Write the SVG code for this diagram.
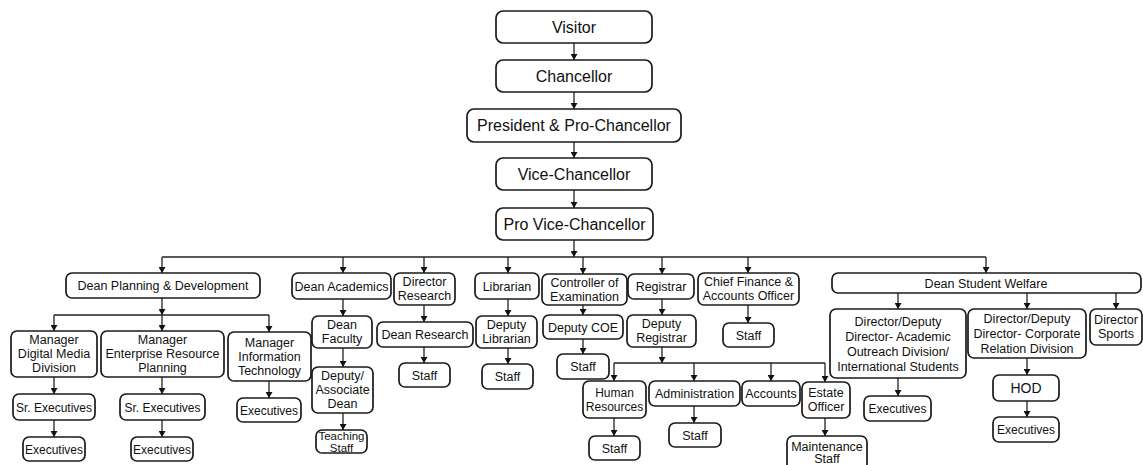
<svg xmlns="http://www.w3.org/2000/svg" width="1143" height="465" viewBox="0 0 1143 465">
<defs>
<marker id="ah" viewBox="0 0 10 10" refX="10" refY="5" markerWidth="6" markerHeight="7" markerUnits="userSpaceOnUse" orient="auto" preserveAspectRatio="none">
<path d="M0,0 L10,5 L0,10 z" fill="#111"/>
</marker>
<style>
rect{fill:#fff;stroke:#1a1a1a;stroke-width:1.7}
text{font-family:"Liberation Sans",Arial,sans-serif;font-size:12.5px;fill:#111;text-anchor:middle}
.t text{font-size:16px}
text.s{font-size:12px}
text.xs{font-size:11.5px}
#conn line{stroke:#222;stroke-width:1.3}
#conn line.a{marker-end:url(#ah)}
</style>
</defs>
<rect x="0" y="0" width="1143" height="465" style="fill:#fff;stroke:none"/>
<g id="conn">
<line class="a" x1="574" y1="43" x2="574" y2="60"/>
<line class="a" x1="574" y1="92" x2="574" y2="109"/>
<line class="a" x1="574" y1="142" x2="574" y2="158"/>
<line class="a" x1="574" y1="190" x2="574" y2="208"/>
<line class="a" x1="574" y1="240" x2="574" y2="257"/>
<line x1="162" y1="257" x2="986" y2="257"/>
<line class="a" x1="162" y1="257" x2="162" y2="273"/>
<line class="a" x1="343" y1="257" x2="343" y2="273"/>
<line class="a" x1="424" y1="257" x2="424" y2="273"/>
<line class="a" x1="508" y1="257" x2="508" y2="273"/>
<line class="a" x1="583" y1="257" x2="583" y2="274"/>
<line class="a" x1="662" y1="257" x2="662" y2="274"/>
<line class="a" x1="748" y1="257" x2="748" y2="273"/>
<line class="a" x1="986" y1="257" x2="986" y2="273"/>
<line class="a" x1="162" y1="298" x2="162" y2="315"/>
<line x1="54" y1="315" x2="269" y2="315"/>
<line class="a" x1="54" y1="315" x2="54" y2="331"/>
<line class="a" x1="162" y1="315" x2="162" y2="331"/>
<line class="a" x1="269" y1="315" x2="269" y2="332"/>
<line class="a" x1="54" y1="377" x2="54" y2="394"/>
<line class="a" x1="54" y1="420" x2="54" y2="437"/>
<line class="a" x1="162" y1="377" x2="162" y2="394"/>
<line class="a" x1="162" y1="420" x2="162" y2="437"/>
<line class="a" x1="269" y1="381" x2="269" y2="398"/>
<line class="a" x1="343" y1="299" x2="343" y2="316"/>
<line class="a" x1="343" y1="348" x2="343" y2="367"/>
<line class="a" x1="343" y1="413" x2="343" y2="430"/>
<line class="a" x1="424" y1="305" x2="424" y2="322"/>
<line class="a" x1="424" y1="347" x2="424" y2="363"/>
<line class="a" x1="508" y1="299" x2="508" y2="316"/>
<line class="a" x1="508" y1="348" x2="508" y2="364"/>
<line class="a" x1="583" y1="305" x2="583" y2="315"/>
<line class="a" x1="583" y1="339" x2="583" y2="354"/>
<line class="a" x1="662" y1="299" x2="662" y2="315"/>
<line class="a" x1="662" y1="347" x2="662" y2="363"/>
<line x1="614" y1="363" x2="825" y2="363"/>
<line class="a" x1="614" y1="363" x2="614" y2="381"/>
<line class="a" x1="694" y1="363" x2="694" y2="381"/>
<line class="a" x1="771" y1="363" x2="771" y2="381"/>
<line class="a" x1="825" y1="363" x2="825" y2="382"/>
<line class="a" x1="614" y1="418" x2="614" y2="436"/>
<line class="a" x1="694" y1="406" x2="694" y2="423"/>
<line class="a" x1="825" y1="418" x2="825" y2="436"/>
<line class="a" x1="748" y1="305" x2="748" y2="323"/>
<line class="a" x1="898" y1="293" x2="898" y2="309"/>
<line class="a" x1="1027" y1="293" x2="1027" y2="309"/>
<line class="a" x1="1116" y1="293" x2="1116" y2="309"/>
<line class="a" x1="898" y1="378" x2="898" y2="396"/>
<line class="a" x1="1027" y1="358" x2="1027" y2="375"/>
<line class="a" x1="1027" y1="401" x2="1027" y2="417"/>
</g>
<g class="t">
<g id="visitor"><rect x="496" y="11" width="156" height="32" rx="7"/><text x="574" y="32.5">Visitor</text></g>
<g id="chancellor"><rect x="496" y="60" width="156" height="32" rx="7"/><text x="574" y="81.5">Chancellor</text></g>
<g id="president"><rect x="467" y="109" width="214" height="33" rx="7"/><text x="574" y="131">President &amp; Pro-Chancellor</text></g>
<g id="vice-chancellor"><rect x="496" y="158" width="156" height="32" rx="7"/><text x="574" y="179.5">Vice-Chancellor</text></g>
<g id="pro-vice-chancellor"><rect x="496" y="208" width="157" height="32" rx="7"/><text x="574.5" y="229.5">Pro Vice-Chancellor</text></g>
</g>
<g id="dean-planning"><rect x="66" y="273" width="194" height="25" rx="6"/><text x="163" y="290">Dean Planning &amp; Development</text></g>
<g id="dean-academics"><rect x="292" y="273" width="99" height="26" rx="6"/><text x="341.5" y="290.5">Dean Academics</text></g>
<g id="director-research"><rect x="394" y="273" width="61" height="32" rx="6"/><text x="424.5" y="286">Director</text><text x="424.5" y="300">Research</text></g>
<g id="librarian"><rect x="475" y="273" width="64" height="26" rx="6"/><text x="507" y="290.5">Librarian</text></g>
<g id="controller"><rect x="542" y="274" width="85" height="31" rx="6"/><text x="584.5" y="287">Controller of</text><text x="584.5" y="301">Examination</text></g>
<g id="registrar"><rect x="628" y="274" width="66" height="25" rx="6"/><text x="661" y="291">Registrar</text></g>
<g id="chief-finance"><rect x="698" y="273" width="101" height="32" rx="6"/><text x="748.5" y="286">Chief Finance &amp;</text><text x="748.5" y="300">Accounts Officer</text></g>
<g id="dean-student-welfare"><rect x="832" y="273" width="309" height="20" rx="6"/><text x="986" y="287.5">Dean Student Welfare</text></g>
<g id="mgr-digital"><rect x="11" y="331" width="86" height="46" rx="6"/><text x="54" y="344">Manager</text><text x="54" y="358">Digital Media</text><text x="54" y="372">Division</text></g>
<g id="mgr-erp"><rect x="101" y="331" width="123" height="46" rx="6"/><text x="162.5" y="344">Manager</text><text x="162.5" y="358">Enterprise Resource</text><text x="162.5" y="372">Planning</text></g>
<g id="mgr-it"><rect x="228" y="332" width="83" height="49" rx="6"/><text x="269.5" y="347">Manager</text><text x="269.5" y="361">Information</text><text x="269.5" y="375">Technology</text></g>
<g id="dean-faculty"><rect x="312" y="316" width="60" height="32" rx="6"/><text x="342" y="329">Dean</text><text x="342" y="343">Faculty</text></g>
<g id="dean-research"><rect x="377" y="322" width="96" height="25" rx="6"/><text x="425" y="339">Dean Research</text></g>
<g id="deputy-librarian"><rect x="476" y="316" width="61" height="32" rx="6"/><text x="506.5" y="329">Deputy</text><text x="506.5" y="343">Librarian</text></g>
<g id="deputy-coe"><rect x="543" y="315" width="80" height="24" rx="6"/><text x="583" y="331.5">Deputy COE</text></g>
<g id="deputy-registrar"><rect x="627" y="315" width="69" height="32" rx="6"/><text x="661.5" y="328">Deputy</text><text x="661.5" y="342">Registrar</text></g>
<g id="cfo-staff"><rect x="723" y="323" width="51" height="24" rx="6"/><text x="748.5" y="339.5">Staff</text></g>
<g id="dir-outreach"><rect x="830" y="309" width="136" height="69" rx="6"/><text x="898" y="326">Director/Deputy</text><text x="898" y="341">Director- Academic</text><text x="898" y="356">Outreach Division/</text><text x="898" y="371">International Students</text></g>
<g id="dir-corporate"><rect x="968" y="309" width="118" height="49" rx="6"/><text x="1027" y="323">Director/Deputy</text><text x="1027" y="338">Director- Corporate</text><text x="1027" y="353">Relation Division</text></g>
<g id="dir-sports"><rect x="1090" y="309" width="52" height="36" rx="6"/><text x="1116" y="324">Director</text><text x="1116" y="338">Sports</text></g>
<g id="sr-exec-1"><rect x="13" y="394" width="82" height="26" rx="6"/><text class="s" x="54" y="411.5">Sr. Executives</text></g>
<g id="sr-exec-2"><rect x="120" y="394" width="85" height="26" rx="6"/><text class="s" x="162.5" y="411.5">Sr. Executives</text></g>
<g id="exec-it"><rect x="237" y="398" width="64" height="24" rx="6"/><text class="s" x="269" y="414.5">Executives</text></g>
<g id="deputy-assoc-dean"><rect x="312" y="367" width="61" height="46" rx="6"/><text x="342.5" y="380">Deputy/</text><text x="342.5" y="394">Associate</text><text x="342.5" y="408">Dean</text></g>
<g id="research-staff"><rect x="399" y="363" width="51" height="24" rx="6"/><text x="424.5" y="379.5">Staff</text></g>
<g id="lib-staff"><rect x="482" y="364" width="51" height="25" rx="6"/><text x="507.5" y="381">Staff</text></g>
<g id="coe-staff"><rect x="557" y="354" width="52" height="25" rx="6"/><text x="583" y="371">Staff</text></g>
<g id="human-resources"><rect x="583" y="381" width="63" height="37" rx="6"/><text class="s" x="614.5" y="397">Human</text><text class="s" x="614.5" y="411">Resources</text></g>
<g id="administration"><rect x="649" y="381" width="91" height="25" rx="6"/><text x="694.5" y="398">Administration</text></g>
<g id="accounts"><rect x="742" y="381" width="58" height="25" rx="6"/><text x="771" y="398">Accounts</text></g>
<g id="estate-officer"><rect x="802" y="382" width="48" height="36" rx="6"/><text x="826" y="397">Estate</text><text x="826" y="411">Officer</text></g>
<g id="outreach-exec"><rect x="864" y="396" width="67" height="25" rx="6"/><text class="s" x="897.5" y="413">Executives</text></g>
<g id="hod"><rect x="993" y="375" width="66" height="26" rx="6"/><text x="1026" y="393" style="font-size:14px">HOD</text></g>
<g id="exec-1"><rect x="23" y="437" width="62" height="24" rx="6"/><text class="s" x="54" y="453.5">Executives</text></g>
<g id="exec-2"><rect x="131" y="437" width="62" height="24" rx="6"/><text class="s" x="162" y="453.5">Executives</text></g>
<g id="teaching-staff"><rect x="316" y="430" width="51" height="23" rx="6"/><text class="xs" x="341.5" y="440">Teaching</text><text class="xs" x="341.5" y="451.5">Staff</text></g>
<g id="hr-staff"><rect x="589" y="436" width="51" height="24" rx="6"/><text x="614.5" y="452.5">Staff</text></g>
<g id="admin-staff"><rect x="669" y="423" width="52" height="24" rx="6"/><text x="695" y="439.5">Staff</text></g>
<g id="maintenance-staff"><rect x="787" y="436" width="80" height="34" rx="6"/><text x="827" y="451">Maintenance</text><text x="827" y="463">Staff</text></g>
<g id="hod-exec"><rect x="993" y="417" width="66" height="25" rx="6"/><text class="s" x="1026" y="434">Executives</text></g>
</svg>
